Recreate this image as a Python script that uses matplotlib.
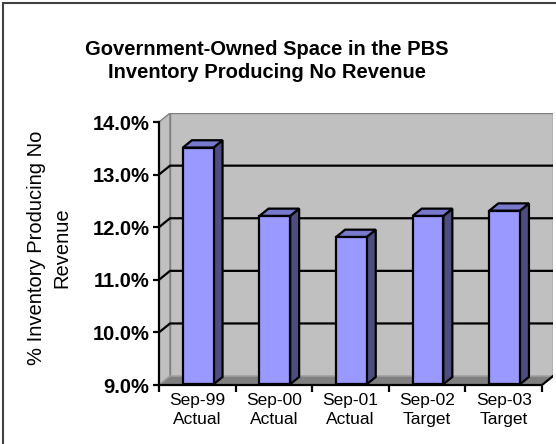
import matplotlib
matplotlib.use('Agg')
import matplotlib.pyplot as plt
from matplotlib.patches import Polygon, Rectangle

plt.rcParams['font.family'] = ['Liberation Sans', 'DejaVu Sans']

# fiscal year ends and whether the figure is actual or target
periods = ['Sep-99', 'Sep-00', 'Sep-01', 'Sep-02', 'Sep-03']
kinds = ['Actual', 'Actual', 'Actual', 'Target', 'Target']
# % of government-owned inventory producing no revenue
pct_no_revenue = [13.5, 12.2, 11.8, 12.2, 12.3]
y_ticks = [9, 10, 11, 12, 13, 14]

Y_MIN, Y_MAX = 9.0, 14.0
DX, DY = 0.144, 0.17          # depth of the fake 3d box, in data units
BAR_W = 0.40
BAR_FRONT, BAR_DEPTH = 0.08, 0.82

W, H = 556, 444
PX_CAT, PX_PCT = 76.6, 52.6   # pixels per category / per percent

FRONT = '#9999ff'
TOP = '#7878cc'
SIDE = '#4d4d80'
WALL = '#c0c0c0'
FLOOR = '#808080'
LW = 1.6

fig = plt.figure(figsize=(W / 100, H / 100), dpi=100)
n = len(periods)
ax = fig.add_axes([159 / W, 59 / H, (n + DX) * PX_CAT / W,
                   (Y_MAX - Y_MIN + DY) * PX_PCT / H])
ax.set_xlim(0, n + DX)
ax.set_ylim(Y_MIN, Y_MAX + DY)
ax.patch.set_visible(False)

# side wall, back wall, floor
ax.add_patch(Polygon([(0, Y_MIN), (DX, Y_MIN + DY), (DX, Y_MAX + DY), (0, Y_MAX)],
                     fc=WALL, ec='#808080', lw=1, zorder=1))
ax.add_patch(Rectangle((DX, Y_MIN + DY), n, Y_MAX - Y_MIN,
                       fc=WALL, ec='#808080', lw=1, zorder=1))
ax.add_patch(Polygon([(0, Y_MIN), (n, Y_MIN), (n + DX, Y_MIN + DY), (DX, Y_MIN + DY)],
                     fc=FLOOR, ec='#a0a0a0', lw=1, zorder=1))

# gridlines run along the side wall and across the back wall
for t in y_ticks[1:-1]:
    ax.plot([0, DX, n + DX], [t, t + DY, t + DY], color='black', lw=LW, zorder=2)

# bars: front face from ax.bar, top and side faces added on top
xs = [i + 0.5 for i in range(n)]
ox, oy = BAR_FRONT * DX, BAR_FRONT * DY
bx, by = BAR_DEPTH * DX, BAR_DEPTH * DY
heights = [v - Y_MIN for v in pct_no_revenue]
bars = ax.bar([x + ox for x in xs], heights, width=BAR_W, bottom=Y_MIN + oy,
              color=FRONT, edgecolor='black', lw=LW, zorder=4)
for b in bars:
    x0 = b.get_x()
    x1 = x0 + b.get_width()
    y0 = b.get_y()
    y1 = y0 + b.get_height()
    side = [(x1, y0), (x1 + bx, y0 + by), (x1 + bx, y1 + by), (x1, y1)]
    top = [(x0, y1), (x1, y1), (x1 + bx, y1 + by), (x0 + bx, y1 + by)]
    ax.add_patch(Polygon(side, fc=SIDE, ec='black', lw=LW, zorder=3, joinstyle='miter'))
    ax.add_patch(Polygon(top, fc=TOP, ec='black', lw=LW, zorder=3, joinstyle='miter'))

# axes
for s in ['top', 'right']:
    ax.spines[s].set_visible(False)
ax.spines['left'].set_bounds(Y_MIN, Y_MAX)
ax.spines['bottom'].set_bounds(0, n)
for s in ['left', 'bottom']:
    ax.spines[s].set_linewidth(LW)
    ax.spines[s].set_zorder(5)
ax.plot([n, n + DX], [Y_MIN, Y_MIN + DY], color='black', lw=LW, zorder=5)

ax.set_yticks(y_ticks)
ax.set_yticklabels([f'{t:.1f}%' for t in y_ticks], fontweight='bold', fontsize=14.5)
ax.tick_params(axis='y', length=4, width=LW, pad=3)

ax.set_xticks(range(n + 1))
ax.set_xticklabels([])
ax.tick_params(axis='x', which='major', length=5, width=LW)
ax.set_xticks(xs, minor=True)
ax.set_xticklabels([f'{p}\n{k}' for p, k in zip(periods, kinds)], minor=True,
                   fontsize=12.5, linespacing=1.3)
ax.tick_params(axis='x', which='minor', length=0, pad=6)

fig.text(266.5 / W, 1 - 61 / H,
         'Government-Owned Space in the PBS\nInventory Producing No Revenue',
         ha='center', va='center', fontsize=14.5, fontweight='bold', linespacing=1.3)
fig.text(49 / W, 1 - 247.5 / H, '% Inventory Producing No\nRevenue',
         ha='center', va='center', rotation=90, fontsize=14.5, linespacing=1.4)

# chart frame (only left and top edges fall inside the image)
fig.patches.append(Rectangle((3 / W, -0.1), 1.2, 1.1 - 3 / H, transform=fig.transFigure,
                             fill=False, ec='#404040', lw=1.5))

fig.savefig('out.png', dpi=100)
